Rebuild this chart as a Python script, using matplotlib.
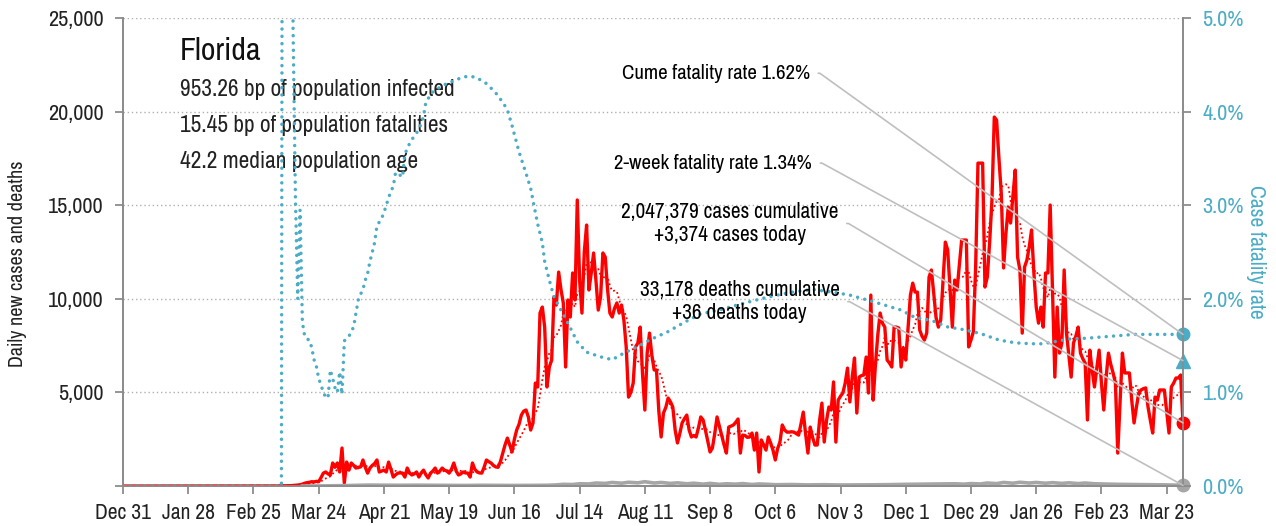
import numpy as np
import pandas as pd
import matplotlib
matplotlib.use("Agg")
import matplotlib.pyplot as plt
from matplotlib import font_manager

# pick a condensed face if one is installed, else Roboto
fonts = font_manager.fontManager.ttflist
base_font, base_stretch = "Roboto", "normal"
narrow = sorted({f.name for f in fonts if "Narrow" in f.name or "Condensed" in f.name})
cond = [f for f in fonts if str(f.stretch) in ("condensed", "semi-condensed")
        and f.name in ("DejaVu Sans", "Noto Sans", "Open Sans", "Roboto", "Liberation Sans")]
if narrow:
    base_font = narrow[0]
elif cond:
    base_font, base_stretch = cond[0].name, str(cond[0].stretch)
plt.rcParams["font.family"] = [base_font, "DejaVu Sans"]
plt.rcParams["font.stretch"] = base_stretch

start = pd.Timestamp("2019-12-31")
end = pd.Timestamp("2021-03-30")

# daily new cases, Mar 1 2020 .. Mar 30 2021 (zero before Mar 1)
cases_pre = [0] * 61
cases = [
    # Mar 2020
    2, 1, 2, 3, 4, 5, 7, 8, 10, 12,
    15, 20, 30, 40, 50, 70, 100, 150, 180, 200,
    230, 220, 250, 230, 450, 690, 750, 650, 590, 1230, 1000,
    # Apr
    1230, 750, 2030, 160, 1280, 850, 1230, 1100, 960, 1000,
    1020, 1390, 1000, 690, 960, 1100, 1200, 1390, 750, 800,
    850, 750, 1280, 900, 480, 600, 690, 700, 690, 480,
    # May
    960, 700, 590, 650, 750, 480, 700, 850, 600, 430,
    690, 800, 960, 690, 800, 960, 850, 800, 690, 900,
    1230, 800, 590, 650, 750, 700, 690, 480, 1230, 900, 750,
    # Jun
    700, 690, 1000, 1390, 1300, 1230, 1100, 1020, 1000, 1300,
    1760, 2200, 2560, 2200, 1820, 2500, 3000, 3300, 3790, 4000,
    4060, 3690, 2990, 3370, 5500, 5290, 9240, 9560, 8490, 5290,
    # Jul
    6360, 6730, 10100, 9670, 11430, 10500, 9780, 6360, 9940, 9030,
    11380, 9940, 15280, 11000, 9240, 12500, 13940, 10470, 11380, 12450,
    11000, 9400, 10100, 12450, 12230, 10500, 9240, 9030, 9500, 9780, 9240,
    # Aug
    9670, 8870, 7430, 4750, 5000, 5500, 7430, 7640, 8490, 6000,
    4060, 7100, 8170, 7000, 6200, 6200, 4000, 2620, 3900, 4200,
    4700, 4500, 4220, 3000, 2300, 2800, 3370, 3600, 3790, 3000, 2620,
    # Sep
    2700, 2620, 3100, 3690, 3530, 2990, 2400, 1820, 2030, 2800,
    3690, 3200, 2720, 2200, 1760, 3150, 3200, 3260, 3400, 3580,
    1760, 2720, 2700, 2600, 2620, 2830, 1920, 2830, 750, 2460,
    # Oct
    2200, 1920, 2620, 2300, 1920, 1390, 2000, 2350, 3260, 3000,
    2880, 2880, 2900, 2880, 2800, 2720, 3300, 3950, 2800, 1760,
    3150, 2600, 2190, 2190, 3500, 4430, 2350, 3500, 4220, 4060, 5560,
    # Nov
    2350, 4590, 4800, 4970, 5500, 6300, 4490, 5800, 6840, 3900,
    5820, 5900, 5930, 6890, 4970, 10200, 4590, 6500, 8070, 9240,
    8700, 8490, 6730, 6570, 6360, 8490, 8490, 8440, 6360, 7370,
    # Dec
    6730, 8500, 10200, 10840, 10360, 10360, 8330, 8000, 7800, 8170,
    11160, 11540, 10310, 9000, 8490, 8870, 11000, 13030, 12610, 10500,
    8490, 11000, 10470, 11800, 13140, 13140, 13140, 7430, 7800, 8230, 11700,
    # Jan 2021
    17250, 17250, 17250, 10630, 11160, 13000, 15280, 19710, 19550, 17500,
    15650, 11650, 13500, 14900, 14050, 15500, 16880, 12230, 11540, 8170,
    11700, 12070, 12770, 13680, 11380, 9560, 8700, 9560, 8490, 11380, 11380,
    # Feb
    15010, 10310, 5820, 9560, 7100, 7640, 11540, 8170, 7000, 5820,
    7640, 8000, 8490, 7100, 6800, 6570, 3530, 7260, 6200, 5290,
    6300, 7260, 5500, 4060, 5800, 7100, 6500, 6040,
    # Mar
    5500, 1760, 4500, 7100, 6040, 6040, 6040, 4590, 3370, 4200,
    4970, 5130, 5200, 5240, 4220, 3500, 2830, 4750, 4590, 5130,
    5130, 5130, 4000, 2830, 5290, 5500, 5770, 5770, 5930, 3374,
]

# daily deaths, read every few days from Mar 17 2020
death_day = [
    77, 84, 91, 98, 105, 112, 119, 126, 133, 140, 147, 154, 161, 168, 175,
    182, 186, 189, 193, 196, 200, 203, 207, 210, 214, 217, 221, 224, 228,
    231, 235, 238, 242, 245, 249, 252, 256, 259, 263, 266, 270, 273, 277,
    280, 287, 294, 301, 308, 315, 322, 329, 336, 343, 350, 357, 361, 364,
    368, 371, 375, 378, 382, 385, 389, 392, 396, 399, 403, 406, 410, 413,
    417, 420, 427, 434, 441, 448, 455,
]
deaths = [
    2, 5, 15, 30, 50, 45, 40, 45, 40, 35, 30, 40, 35, 30, 35,
    40, 60, 90, 80, 120, 110, 160, 140, 190, 150, 200, 170, 230, 160,
    190, 140, 170, 120, 150, 100, 140, 90, 120, 100, 130, 80, 110, 90,
    70, 80, 60, 70, 55, 60, 65, 75, 90, 100, 110, 120, 100, 130,
    110, 160, 130, 190, 150, 200, 160, 190, 150, 180, 140, 170, 130, 160,
    120, 110, 90, 80, 70, 60, 36,
]

# cumulative case fatality rate (%), keyed by days since Dec 31 2019
cfr_day = [
    0, 68, 69, 70, 71, 72, 73, 74, 75, 76, 77, 78, 79, 80, 81, 82, 83, 84,
    85, 86, 87, 88, 89, 90, 91, 92, 93, 94, 95, 96, 97, 98, 99, 100, 101,
    102, 103, 104, 105, 106, 107, 108, 109, 110, 111, 112, 113, 114, 115,
    116, 117, 118, 119, 120, 121, 122, 123, 124, 125, 126, 127, 128, 129,
    130, 131, 132, 133, 136, 139, 143, 146, 149, 152, 156, 160, 163, 165,
    167, 170, 173, 175, 176, 178, 180, 181, 183, 185, 188, 191, 195, 199,
    205, 210, 215, 221, 226, 234, 241, 248, 256, 266, 277, 287, 296, 305,
    312, 322, 334, 340, 347, 354, 361, 368, 376, 383, 390, 395, 406, 414,
    424, 434, 455,
]
cfr_pct = [
    0.0, 0.0, 20, 18, 14, 12, 4.9, 3.1, 2.0, 2.95, 1.75, 1.6, 1.57, 1.56,
    1.48, 1.35, 1.28, 1.15, 1.08, 1.0, 0.95, 0.94, 1.24, 1.15, 1.05, 1.0,
    1.22, 0.98, 1.55, 1.58, 1.6, 1.65, 1.7, 1.85, 1.99, 2.05, 2.1, 2.2,
    2.27, 2.4, 2.5, 2.6, 2.78, 2.82, 2.86, 2.92, 3.0, 3.08, 3.15, 3.2,
    3.35, 3.34, 3.32, 3.3, 3.55, 3.6, 3.66, 3.7, 3.74, 3.77, 3.82, 3.87,
    3.95, 4.1, 4.14, 4.18, 4.21, 4.26, 4.3, 4.34, 4.37, 4.38, 4.36, 4.3,
    4.2, 4.1, 4.02, 3.85, 3.57, 3.34, 3.18, 3.05, 2.8, 2.6, 2.4, 2.2,
    2.02, 1.88, 1.74, 1.54, 1.43, 1.38, 1.35, 1.42, 1.49, 1.56, 1.65,
    1.75, 1.84, 1.88, 1.95, 2.02, 2.07, 2.1, 2.07, 2.04, 1.97, 1.88, 1.8,
    1.77, 1.7, 1.67, 1.63, 1.56, 1.53, 1.52, 1.52, 1.57, 1.58, 1.6, 1.62,
    1.62,
]

two_week_cfr = 1.34
cum_cases = 2047379
cum_deaths = 33178
today_cases = 3374
today_deaths = 36

state = "Florida"
info_lines = [
    "953.26 bp of population infected",
    "15.45 bp of population fatalities",
    "42.2 median population age",
]

red = "#FF0000"
teal = "#4BACC6"
gray = "#A6A6A6"
axis_gray = "#8C8C8C"
lead_gray = "#BFBFBF"

all_cases = pd.Series(cases_pre + cases,
                      index=pd.date_range(start, periods=len(cases_pre) + len(cases)))
avg7 = all_cases.rolling(7, min_periods=1).mean()
death_dates = start + pd.to_timedelta(death_day, unit="D")
cfr_dates = start + pd.to_timedelta(cfr_day, unit="D")

fig = plt.figure(figsize=(12.76, 5.26), dpi=100)
ax = fig.add_axes([0.0964, 0.076, 0.8307, 0.8897])
ax2 = ax.twinx()

ax.plot(all_cases.index, all_cases.values, color=red, lw=2.4, zorder=3)
ax.plot(avg7.index, avg7.values, color=red, lw=1.3, ls=(0, (1, 1.5)), zorder=4)
ax.plot(death_dates, deaths, color=gray, lw=2.6, zorder=5)
ax.plot(all_cases.index[-1], today_cases, "o", color=red, ms=9, zorder=6, clip_on=False)
ax.plot(death_dates[-1], today_deaths, "o", color=gray, ms=9, zorder=6, clip_on=False)

ax2.plot(cfr_dates, cfr_pct, color=teal, lw=2.5, ls=(0, (0.01, 2.1)),
         dash_capstyle="round")
ax2.plot(cfr_dates[-1], cfr_pct[-1], "o", color=teal, ms=9, clip_on=False)
ax2.plot(cfr_dates[-1], two_week_cfr, "^", color=teal, ms=10, clip_on=False)

# axes
ax.set_xlim(start, end)
ax.set_ylim(0, 25000)
ax2.set_ylim(0, 5)
yt = np.arange(0, 25001, 5000)
ax.set_yticks(yt)
ax.set_yticklabels([""] + [f"{v:,}" for v in yt[1:]])
ax2.set_yticks(np.arange(0, 5.01, 1))
ax2.set_yticklabels([f"{v:.1f}%" for v in np.arange(0, 5.01, 1)])
xt = pd.date_range(start, end, freq="28D")
ax.set_xticks(xt)
ax.set_xticklabels([f"{d:%b} {d.day}" for d in xt])

for a in (ax, ax2):
    a.spines["top"].set_visible(False)
    for s in ("left", "right", "bottom"):
        a.spines[s].set_color(axis_gray)
        a.spines[s].set_linewidth(1.3)
ax.tick_params(axis="both", colors=axis_gray, labelcolor="#222222", labelsize=16,
               length=6, width=1.3)
ax.tick_params(axis="y", pad=8)
ax.tick_params(axis="x", pad=6, labelsize=15.5)
ax2.tick_params(axis="y", colors=axis_gray, labelcolor=teal, labelsize=16,
                length=6, width=1.3, pad=8)
ax.grid(axis="y", color="#B0B0B0", ls=(0, (1, 2)), lw=1)
ax.set_axisbelow(True)

ax.set_ylabel("Daily new cases and deaths", fontsize=14.5, color="#222222")
ax.yaxis.set_label_coords(-0.091, 0.474)
ax2.set_ylabel("Case fatality rate", fontsize=15.5, color=teal, rotation=270, labelpad=16)

# title block
ax.text(0.054, 0.93, state, transform=ax.transAxes, fontsize=23,
        va="center", ha="left", color="#111111")
for i, line in enumerate(info_lines):
    ax.text(0.054, 0.848 - i * 0.077, line, transform=ax.transAxes, fontsize=16.8,
            va="center", ha="left", color="#222222")

# callouts with leader lines
lead = dict(arrowstyle="-", color=lead_gray, lw=1.2, shrinkA=4, shrinkB=0,
            relpos=(1, 0.5), connectionstyle="arc,angleA=0,armA=10,angleB=0,armB=0,rad=0")
ax2.annotate(f"Cume fatality rate {cfr_pct[-1]:.2f}%", xy=(cfr_dates[-1], cfr_pct[-1]),
             xytext=(0.648, 0.882), textcoords="axes fraction", ha="right", va="center",
             fontsize=15, arrowprops=lead)
ax2.annotate(f"2-week fatality rate {two_week_cfr:.2f}%", xy=(cfr_dates[-1], two_week_cfr),
             xytext=(0.650, 0.690), textcoords="axes fraction", ha="right", va="center",
             fontsize=15, arrowprops=lead)
ax2.annotate(f"{cum_cases:,} cases cumulative\n+{today_cases:,} cases today",
             xy=(all_cases.index[-1], today_cases / 5000), xytext=(0.675, 0.561),
             textcoords="axes fraction", ha="right", va="center", multialignment="center",
             fontsize=15.3, linespacing=1.2, arrowprops=lead)
ax2.annotate(f"{cum_deaths:,} deaths cumulative\n+{today_deaths} deaths today",
             xy=(death_dates[-1], today_deaths / 5000), xytext=(0.676, 0.394),
             textcoords="axes fraction", ha="right", va="center", multialignment="center",
             fontsize=15.3, linespacing=1.2, arrowprops=lead)

fig.savefig("out.png", dpi=100)
